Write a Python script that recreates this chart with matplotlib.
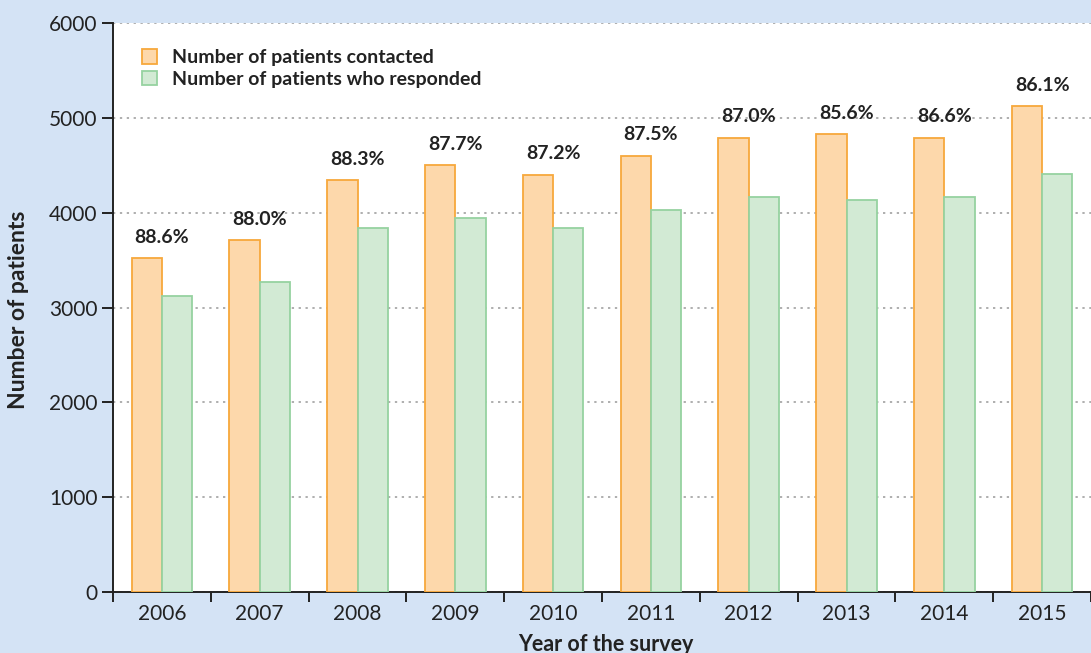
import matplotlib
matplotlib.use("Agg")
import matplotlib.pyplot as plt
import numpy as np

years = ["2006", "2007", "2008", "2009", "2010", "2011", "2012", "2013", "2014", "2015"]
contacted = [3520, 3710, 4340, 4500, 4400, 4600, 4790, 4825, 4790, 5120]
responded = [3120, 3270, 3835, 3945, 3840, 4030, 4170, 4130, 4160, 4405]
rate_labels = ["88.6%", "88.0%", "88.3%", "87.7%", "87.2%", "87.5%", "87.0%", "85.6%", "86.6%", "86.1%"]
yticks = [0, 1000, 2000, 3000, 4000, 5000, 6000]

plt.rcParams['font.family'] = ['Lato', 'DejaVu Sans']

bg = "#d4e3f5"
txt = "#222222"
fig = plt.figure(figsize=(10.91, 6.53), dpi=100, facecolor=bg)
ax = fig.add_axes([113/1091, 61/653, 1 - 113/1091, (592-23)/653])
ax.set_facecolor("white")

x = np.arange(len(years))
w = 0.31
ax.bar(x - w/2, contacted, width=w, color="#fdd8ab", edgecolor="#f7a83c", linewidth=1.3,
       label="Number of patients contacted", zorder=3)
ax.bar(x + w/2, responded, width=w, color="#d2ead4", edgecolor="#96d2a0", linewidth=1.3,
       label="Number of patients who responded", zorder=3)

for xi, c, lab in zip(x, contacted, rate_labels):
    ax.annotate(lab, (xi, c), xytext=(0, 9), textcoords="offset points",
                ha="center", va="bottom", fontsize=14, fontweight="bold", color=txt)

ax.set_xlim(-0.5, 9.41)
ax.set_ylim(0, 6000)
ax.set_yticks(yticks)
ax.yaxis.grid(True, linestyle=(0, (1.5, 3)), color="#999999", linewidth=1.1, zorder=0)
ax.set_axisbelow(True)

ax.set_xticks(x)
ax.set_xticklabels(years)
ax.set_xticks(np.arange(-0.5, 10, 1.0), minor=True)
ax.tick_params(axis="x", which="major", length=0, pad=9, labelsize=15, colors=txt)
ax.tick_params(axis="x", which="minor", length=7, width=1.4, color=txt, direction="out")
ax.tick_params(axis="y", length=8, width=1.4, pad=3, labelsize=15, colors=txt)

for s in ["top", "right"]:
    ax.spines[s].set_visible(False)
for s in ["left", "bottom"]:
    ax.spines[s].set_color(txt)
    ax.spines[s].set_linewidth(1.4)

ax.set_ylabel("Number of patients", fontsize=16.5, fontweight="bold", color=txt)
ax.yaxis.set_label_coords(-(113 - 29) / 978, (592 - 310) / 569)
ax.set_xlabel("Year of the survey", fontsize=15.5, fontweight="bold", color=txt)
ax.xaxis.set_label_coords((606 - 113) / 978, -(634 - 592) / 569)

leg = ax.legend(loc="upper left", bbox_to_anchor=(0.03, 0.954), frameon=False,
                handlelength=0.75, handleheight=0.75, handletextpad=0.75, labelspacing=0.25,
                borderaxespad=0, borderpad=0, prop={"weight": "bold", "size": 14})
for t in leg.get_texts():
    t.set_color(txt)

fig.savefig("out.png", dpi=100, facecolor=bg)
